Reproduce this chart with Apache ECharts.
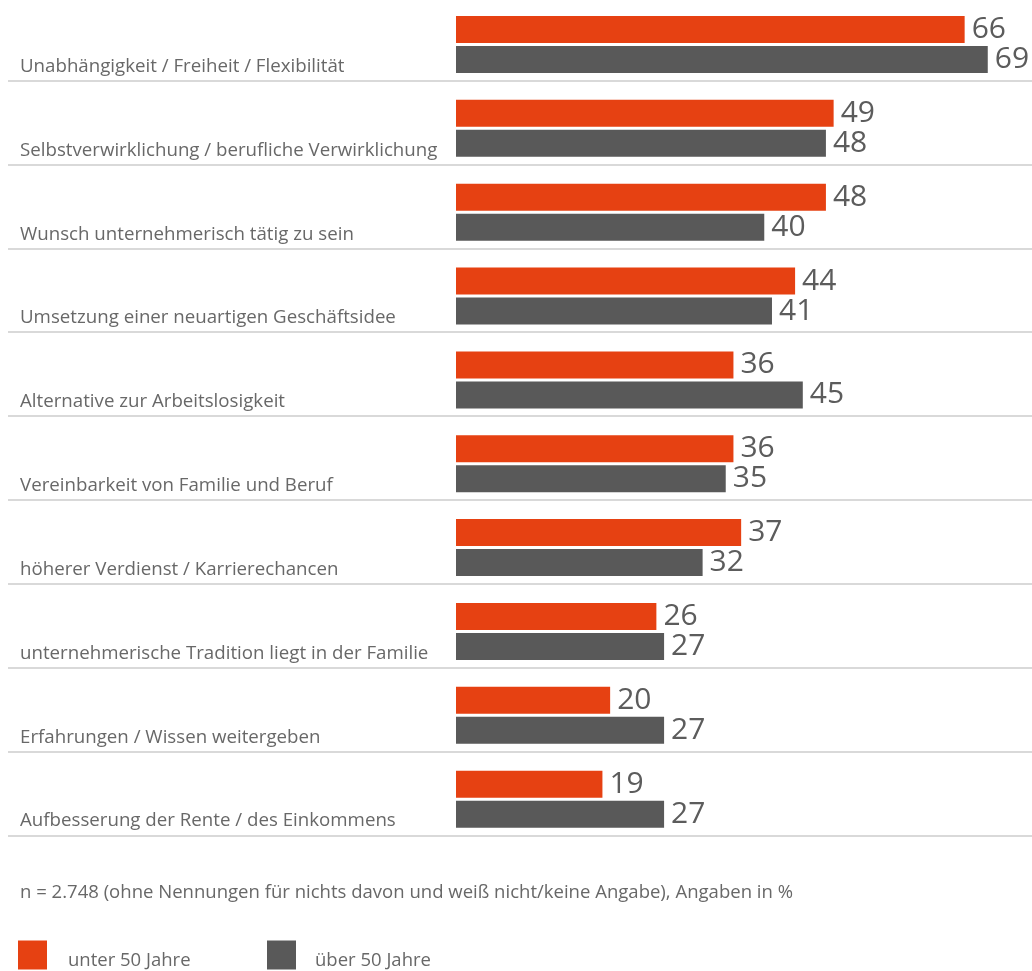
<!DOCTYPE html>
<html lang="de">
<head>
<meta charset="utf-8">
<title>Gründungsmotive nach Alter</title>
<script src="https://cdn.jsdelivr.net/npm/echarts@6/dist/echarts.min.js"></script>
<style>
  html, body { margin: 0; padding: 0; background: #ffffff; }
  #chart { width: 1032px; height: 971px; }
</style>
</head>
<body>
<div id="chart"></div>
<script>
// Gründungsmotive, Angaben in %
const categories = [
  'Unabhängigkeit / Freiheit / Flexibilität',
  'Selbstverwirklichung / berufliche Verwirklichung',
  'Wunsch unternehmerisch tätig zu sein',
  'Umsetzung einer neuartigen Geschäftsidee',
  'Alternative zur Arbeitslosigkeit',
  'Vereinbarkeit von Familie und Beruf',
  'höherer Verdienst / Karrierechancen',
  'unternehmerische Tradition liegt in der Familie',
  'Erfahrungen / Wissen weitergeben',
  'Aufbesserung der Rente / des Einkommens'
];
const seriesNames = ['unter 50 Jahre', 'über 50 Jahre'];
const unter50 = [66, 49, 48, 44, 36, 36, 37, 26, 20, 19];
const ueber50 = [69, 48, 40, 41, 45, 35, 32, 27, 27, 27];
const footnote = 'n = 2.748 (ohne Nennungen für nichts davon und weiß nicht/keine Angabe), Angaben in %';

const ORANGE = '#e64112';
const GREY = '#595959';
const TEXT = '#686868';
const FONT = '"Open Sans", "Noto Sans", sans-serif';

const rowStep = 83.85;
const rows = categories.length;

const chart = echarts.init(document.getElementById('chart'), null, { renderer: 'canvas' });

const valueLabel = {
  show: true,
  position: 'right',
  distance: 7,
  fontFamily: FONT,
  fontSize: 30,
  color: '#5c5c5c'
};

// legend text sits a little below the centre of its square
const legendText = (padLeft) => ({
  fontFamily: FONT,
  fontSize: 18.5,
  color: TEXT,
  rich: {
    t: {
      fontFamily: FONT,
      fontSize: 18.5,
      color: TEXT,
      lineHeight: 18,
      padding: [11, 0, 0, padLeft]
    }
  }
});

chart.setOption({
  animation: false,
  backgroundColor: '#ffffff',
  textStyle: { fontFamily: FONT },
  title: {
    text: footnote,
    left: 15,
    top: 878,
    textStyle: { fontFamily: FONT, fontSize: 18.55, fontWeight: 'normal', color: TEXT }
  },
  legend: [
    {
      data: [seriesNames[0]],
      left: 13, top: 935,
      icon: 'rect', itemWidth: 29, itemHeight: 29,
      formatter: '{t|{name}}',
      textStyle: legendText(16)
    },
    {
      data: [seriesNames[1]],
      left: 262, top: 935,
      icon: 'rect', itemWidth: 29, itemHeight: 29,
      formatter: '{t|{name}}',
      textStyle: legendText(14)
    }
  ],
  grid: [
    // bars and category labels
    { left: 456, width: 570.3, top: 44.5 - rowStep / 2, height: rowStep * rows },
    // separators below each row (bands between the lines)
    { left: 8, right: 0, top: 80.7, height: rowStep * (rows - 1) }
  ],
  xAxis: [
    { gridIndex: 0, type: 'value', min: 0, max: 74, show: false },
    { gridIndex: 1, type: 'value', min: 0, max: 1, show: false }
  ],
  yAxis: [
    {
      gridIndex: 0,
      type: 'category',
      data: categories,
      inverse: true,
      axisLine: { show: false },
      axisTick: { show: false },
      splitLine: { show: false },
      axisLabel: {
        align: 'left',
        verticalAlign: 'top',
        lineHeight: 44,
        margin: 436,
        fontFamily: FONT,
        fontSize: 18.7,
        color: TEXT
      }
    },
    {
      gridIndex: 1,
      type: 'category',
      data: categories.slice(1),
      inverse: true,
      axisLine: { show: false },
      axisTick: { show: false },
      axisLabel: { show: false },
      splitLine: { show: true, lineStyle: { color: '#cccccc', width: 1.5 } }
    }
  ],
  series: [
    {
      name: seriesNames[0],
      type: 'bar',
      xAxisIndex: 0, yAxisIndex: 0,
      data: unter50,
      barWidth: 27,
      barGap: '11%',
      itemStyle: { color: ORANGE },
      label: valueLabel
    },
    {
      name: seriesNames[1],
      type: 'bar',
      xAxisIndex: 0, yAxisIndex: 0,
      data: ueber50,
      barWidth: 27,
      barGap: '11%',
      itemStyle: { color: GREY },
      label: valueLabel
    }
  ]
});
</script>
</body>
</html>
